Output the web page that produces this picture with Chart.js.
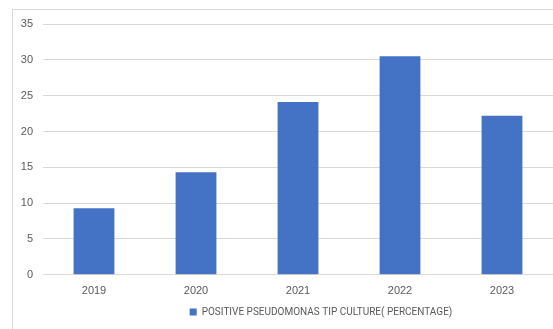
<!DOCTYPE html>
<html>
<head>
<meta charset="utf-8">
<script src="https://cdn.jsdelivr.net/npm/chart.js@4"></script>
<style>
  html, body { margin: 0; padding: 0; background: #fff; overflow: hidden; }
  #frame {
    position: absolute; left: 12px; top: 9px;
    width: 616px; height: 340px;
    border: 1px solid #d9d9d9;
  }
  #chart { display: block; }
</style>
</head>
<body>
<div id="frame">
  <canvas id="chart" width="616" height="319"></canvas>
</div>
<script>
// ================== 数据 ==================
const years = ['2019', '2020', '2021', '2022', '2023'];
const positiveRate = [9.3, 14.3, 24.1, 30.5, 22.2];
const seriesLabel = 'POSITIVE PSEUDOMONAS TIP CULTURE( PERCENTAGE)';
const yTicks = [0, 5, 10, 15, 20, 25, 30, 35];

const textColor = '#595959';
const gridColor = '#d9d9d9';
const font = { family: '"Liberation Sans", Arial, sans-serif', size: 11 };
const legendFont = { family: 'Roboto, "Liberation Sans", Arial, sans-serif', size: 10 };
const plotRightGap = 76;

// 图例按整个图表宽度居中，而不是按绘图区
const centerLegend = {
  id: 'centerLegend',
  afterLayout(chart) {
    const lg = chart.legend;
    if (!lg) return;
    lg.left += plotRightGap / 2;
    lg.right += plotRightGap / 2;
  }
};

// ================== 柱状图 ==================
new Chart(document.getElementById('chart'), {
  type: 'bar',
  data: {
    labels: years,
    datasets: [{
      label: seriesLabel,
      data: positiveRate,
      backgroundColor: '#4472c4',
      categoryPercentage: 1,
      barPercentage: 0.4
    }]
  },
  options: {
    responsive: false,
    animation: false,
    layout: { padding: { top: 14, right: plotRightGap, left: 0, bottom: 2 } },
    plugins: {
      tooltip: { enabled: false },
      legend: {
        position: 'bottom',
        labels: {
          color: textColor,
          font: legendFont,
          boxWidth: 7,
          boxHeight: 7,
          padding: 6
        }
      }
    },
    scales: {
      x: {
        grid: { display: false },
        border: { display: false },
        afterFit: (scale) => { scale.height += 1; },
        ticks: { color: textColor, font: font, padding: 2 }
      },
      y: {
        min: 0,
        max: 35,
        afterFit: (scale) => {
          scale.width = 30;
          scale.paddingTop = 0;
          scale.paddingBottom = 0;
        },
        afterBuildTicks: (scale) => { scale.ticks = yTicks.map(v => ({ value: v })); },
        grid: { color: gridColor, drawTicks: false },
        border: { display: false },
        ticks: { color: textColor, font: font, padding: 10 }
      }
    }
  },
  plugins: [centerLegend]
});
</script>
</body>
</html>
